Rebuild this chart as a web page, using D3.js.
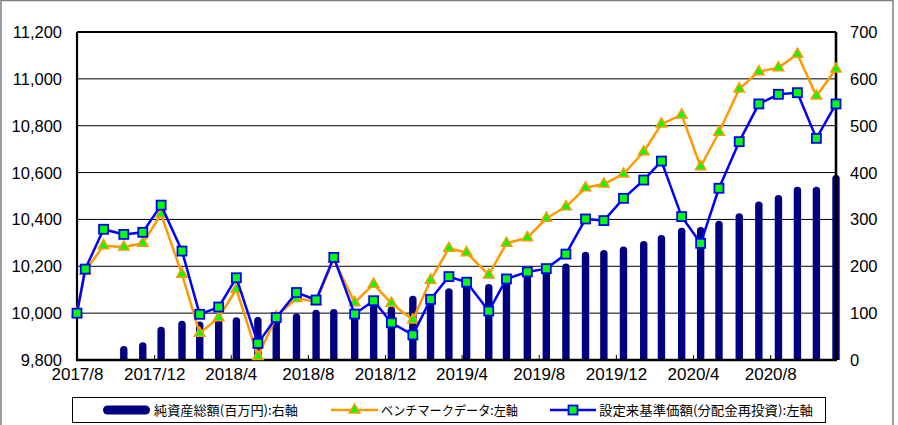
<!DOCTYPE html>
<html>
<head>
<meta charset="utf-8">
<script src="https://cdn.jsdelivr.net/npm/d3@7"></script>
<style>
  body { margin: 0; background: #fff; }
  svg { display: block; }
</style>
</head>
<body>
<div id="chart"></div>
<script>
// dates: inception day, then month ends
var dates = ["2017-08-18", "2017-08-31", "2017-09-29", "2017-10-31", "2017-11-30", "2017-12-29",
    "2018-01-31", "2018-02-28", "2018-03-30", "2018-04-27", "2018-05-31", "2018-06-29",
    "2018-07-31", "2018-08-31", "2018-09-28", "2018-10-31", "2018-11-30", "2018-12-28",
    "2019-01-31", "2019-02-28", "2019-03-29", "2019-04-26", "2019-05-31", "2019-06-28",
    "2019-07-31", "2019-08-30", "2019-09-30", "2019-10-31", "2019-11-29", "2019-12-30",
    "2020-01-31", "2020-02-28", "2020-03-31", "2020-04-30", "2020-05-29", "2020-06-30",
    "2020-07-31", "2020-08-31", "2020-09-30", "2020-10-30", "2020-11-30"];

// 設定来基準価額(分配金再投資)
var navValues = [10000, 10188, 10358, 10336, 10345, 10461, 10265, 9995, 10026, 10151,
    9871, 9981, 10088, 10056, 10238, 9996, 10053, 9959, 9907, 10059,
    10156, 10132, 10009, 10146, 10176, 10190, 10252, 10402, 10395, 10490,
    10568, 10649, 10412, 10298, 10533, 10732, 10893, 10934, 10941, 10746, 10893];

// ベンチマークデータ
var benchValues = [10000, 10180, 10288, 10282, 10298, 10422, 10166, 9914, 9981, 10102,
    9815, 9985, 10063, 10049, 10230, 10045, 10124, 10042, 9971, 10141,
    10277, 10258, 10163, 10298, 10322, 10405, 10454, 10535, 10551, 10594,
    10689, 10807, 10846, 10625, 10772, 10957, 11031, 11048, 11105, 10927, 11042];

// 純資産総額(百万円)
var aumValues = [1, 1, 2, 30, 38, 71, 84, 82, 88, 91,
    92, 96, 99, 107, 109, 105, 118, 114, 137, 140,
    153, 168, 162, 170, 190, 198, 206, 231, 235, 242,
    254, 267, 282, 284, 297, 313, 338, 352, 370, 370, 395];

var xTickDates = ["2017-08-18", "2017-12-18", "2018-04-18", "2018-08-18", "2018-12-18",
    "2019-04-18", "2019-08-18", "2019-12-18", "2020-04-18", "2020-08-18"];
var xTickLabels = ["2017/8", "2017/12", "2018/4", "2018/8", "2018/12",
    "2019/4", "2019/8", "2019/12", "2020/4", "2020/8"];
var leftTicks = [9800, 10000, 10200, 10400, 10600, 10800, 11000, 11200];
var rightTicks = [0, 100, 200, 300, 400, 500, 600, 700];

var legendLabels = ["純資産総額(百万円):右軸", "ベンチマークデータ:左軸", "設定来基準価額(分配金再投資):左軸"];

var W = 898, H = 425;
var margin = { top: 32, right: 62, bottom: 65, left: 77 };
var plotW = W - margin.left - margin.right;
var plotH = H - margin.top - margin.bottom;

var parse = d3.timeParse("%Y-%m-%d");
var data = dates.map(function (d, i) {
    return { date: parse(d), nav: navValues[i], bench: benchValues[i], aum: aumValues[i] };
});

var x = d3.scaleTime()
    .domain([parse(dates[0]), parse(dates[dates.length - 1])])
    .range([0, plotW]);
var yL = d3.scaleLinear().domain([9800, 11200]).range([plotH, 0]);
var yR = d3.scaleLinear().domain([0, 700]).range([plotH, 0]);

var svg = d3.select("#chart").append("svg")
    .attr("width", W)
    .attr("height", H)
    .style("font-family", "'Liberation Sans', Arial, sans-serif");

// outer frame
svg.append("rect")
    .attr("x", 1).attr("y", 0.5)
    .attr("width", 892).attr("height", 440)
    .attr("fill", "none")
    .attr("stroke", "#7f7f7f")
    .attr("stroke-width", 1.5);

var g = svg.append("g")
    .attr("transform", "translate(" + margin.left + "," + margin.top + ")");

g.append("clipPath").attr("id", "plotClip")
    .append("rect")
    .attr("x", -10).attr("y", -10)
    .attr("width", plotW + 20).attr("height", plotH + 10);

//gridlines
g.selectAll(".grid")
    .data(leftTicks)
    .enter()
    .append("line")
    .attr("x1", 0).attr("x2", plotW)
    .attr("y1", function (d) { return yL(d); })
    .attr("y2", function (d) { return yL(d); })
    .attr("stroke", "#000")
    .attr("stroke-width", function (d, i) { return i == leftTicks.length - 1 ? 2 : 1; });

//bars for net assets (rounded top, clipped at the axis)
var barW = 7.4;
g.append("g").attr("clip-path", "url(#plotClip)")
    .selectAll("rect")
    .data(data)
    .enter()
    .append("rect")
    .attr("x", function (d) { return x(d.date) - barW / 2; })
    .attr("y", function (d) { return yR(d.aum); })
    .attr("width", barW)
    .attr("height", function (d) { return plotH - yR(d.aum) + barW; })
    .attr("rx", barW / 2)
    .attr("fill", "#000080");

// left + right + bottom axis lines
g.append("line").attr("x1", 0).attr("x2", 0).attr("y1", 0).attr("y2", plotH)
    .attr("stroke", "#000").attr("stroke-width", 2.2);
g.append("line").attr("x1", plotW).attr("x2", plotW).attr("y1", 0).attr("y2", plotH)
    .attr("stroke", "#000").attr("stroke-width", 2.6);
g.append("line").attr("x1", -1).attr("x2", plotW + 1).attr("y1", plotH).attr("y2", plotH)
    .attr("stroke", "#000").attr("stroke-width", 2.6);

//x axis
var xAxis = d3.axisBottom(x)
    .tickValues(xTickDates.map(parse))
    .tickFormat(function (d, i) { return xTickLabels[i]; })
    .tickSizeInner(-5)
    .tickSizeOuter(0)
    .tickPadding(8);
var xg = g.append("g")
    .attr("transform", "translate(0," + plotH + ")")
    .call(xAxis);
xg.select(".domain").remove();
xg.selectAll(".tick line").attr("stroke", "#000").attr("stroke-width", 1);
xg.selectAll("text")
    .attr("fill", "#000")
    .style("font-size", "17px")
    .style("font-family", "'Liberation Sans', Arial, sans-serif");

//left axis labels
g.selectAll(".ltick")
    .data(leftTicks)
    .enter()
    .append("text")
    .attr("x", -15)
    .attr("y", function (d) { return yL(d); })
    .attr("dy", "0.36em")
    .attr("text-anchor", "end")
    .style("font-size", "16.5px")
    .text(d3.format(","));

//right axis labels
g.selectAll(".rtick")
    .data(rightTicks)
    .enter()
    .append("text")
    .attr("x", plotW + 14)
    .attr("y", function (d) { return yR(d); })
    .attr("dy", "0.36em")
    .attr("text-anchor", "start")
    .style("font-size", "16.5px")
    .text(function (d) { return d; });

//benchmark line
var benchLine = d3.line()
    .x(function (d) { return x(d.date); })
    .y(function (d) { return yL(d.bench); });
g.append("path")
    .datum(data)
    .attr("d", benchLine)
    .attr("fill", "none")
    .attr("stroke", "#FF9900")
    .attr("stroke-width", 2.5)
    .attr("stroke-linejoin", "round");

var tri = d3.symbol().type(d3.symbolTriangle).size(48);
g.selectAll(".tri")
    .data(data)
    .enter()
    .append("path")
    .attr("d", tri)
    .attr("transform", function (d) { return "translate(" + x(d.date) + "," + yL(d.bench) + ")"; })
    .attr("fill", "#00FF00")
    .attr("stroke", "#FF9900")
    .attr("stroke-width", 1.5);

//nav line
var navLine = d3.line()
    .x(function (d) { return x(d.date); })
    .y(function (d) { return yL(d.nav); });
g.append("path")
    .datum(data)
    .attr("d", navLine)
    .attr("fill", "none")
    .attr("stroke", "#0000FF")
    .attr("stroke-width", 2.5)
    .attr("stroke-linejoin", "round");

var sq = 9;
g.selectAll(".sq")
    .data(data)
    .enter()
    .append("rect")
    .attr("x", function (d) { return x(d.date) - sq / 2; })
    .attr("y", function (d) { return yL(d.nav) - sq / 2; })
    .attr("width", sq)
    .attr("height", sq)
    .attr("fill", "#00FF00")
    .attr("stroke", "#0000FF")
    .attr("stroke-width", 1.8);

// legend
var lg = svg.append("g");
lg.append("rect")
    .attr("x", 72.5).attr("y", 397.5)
    .attr("width", 753).attr("height", 25)
    .attr("fill", "#fff")
    .attr("stroke", "#000")
    .attr("stroke-width", 1);

var ly = 410;
lg.append("rect")
    .attr("x", 103).attr("y", ly - 4.5)
    .attr("width", 47).attr("height", 9)
    .attr("rx", 4.5)
    .attr("fill", "#000080");

lg.append("line")
    .attr("x1", 331).attr("x2", 378).attr("y1", ly).attr("y2", ly)
    .attr("stroke", "#FF9900").attr("stroke-width", 2.5);
lg.append("path")
    .attr("d", tri)
    .attr("transform", "translate(354.5," + ly + ")")
    .attr("fill", "#00FF00")
    .attr("stroke", "#FF9900")
    .attr("stroke-width", 1.5);

lg.append("line")
    .attr("x1", 550).attr("x2", 596).attr("y1", ly).attr("y2", ly)
    .attr("stroke", "#0000FF").attr("stroke-width", 2.5);
lg.append("rect")
    .attr("x", 573 - sq / 2).attr("y", ly - sq / 2)
    .attr("width", sq).attr("height", sq)
    .attr("fill", "#00FF00")
    .attr("stroke", "#0000FF")
    .attr("stroke-width", 1.8);

var legendX = [154, 381, 599];
var legendLen = [144, 137, 214];
lg.selectAll(".ltxt")
    .data(legendLabels)
    .enter()
    .append("text")
    .attr("x", function (d, i) { return legendX[i]; })
    .attr("y", ly)
    .attr("dy", "0.36em")
    .attr("textLength", function (d, i) { return legendLen[i]; })
    .attr("lengthAdjust", "spacingAndGlyphs")
    .style("font-family", "'Noto Sans CJK JP', sans-serif")
    .style("font-size", "13px")
    .text(function (d) { return d; });
</script>
</body>
</html>
